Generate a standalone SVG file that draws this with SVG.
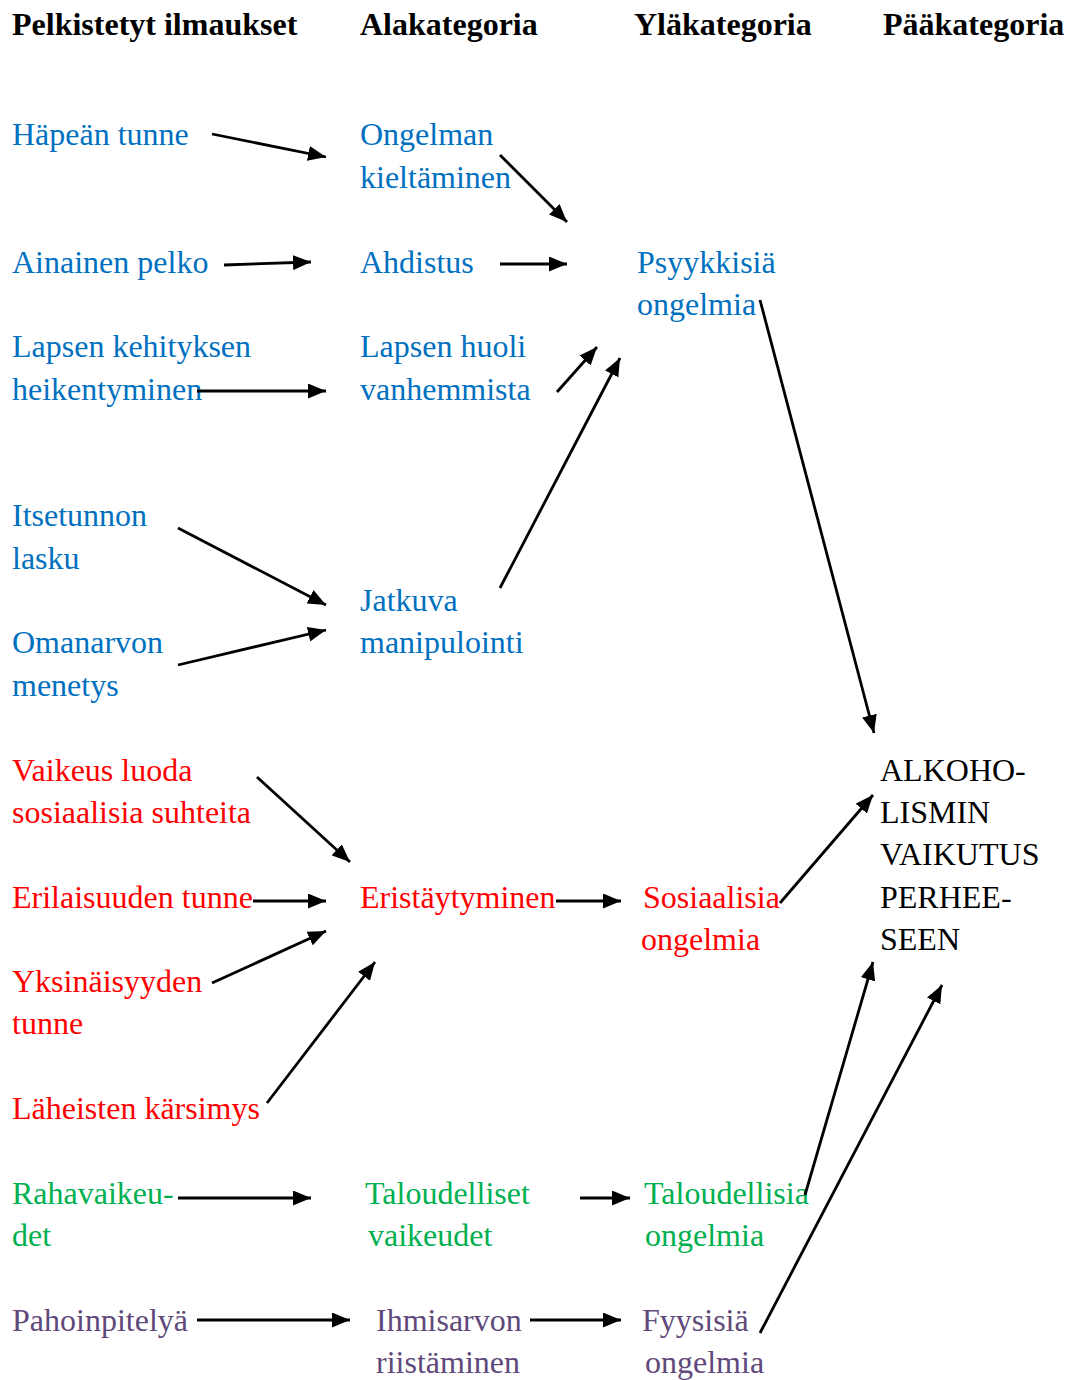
<svg xmlns="http://www.w3.org/2000/svg" width="1073" height="1380" viewBox="0 0 1073 1380">
  <defs>
    <marker id="arrow" markerUnits="userSpaceOnUse" markerWidth="19" markerHeight="15" refX="18" refY="7.5" orient="auto">
      <path d="M0,0 L18,7.5 L0,15 z" fill="#000"/>
    </marker>
    <style>
      text { font-family: "Liberation Serif", "Times New Roman", serif; font-size: 32px; }
      .head { font-weight: bold; fill: #000; }
      .blue { fill: #0070C0; }
      .red { fill: #FF0000; }
      .green { fill: #00B050; }
      .purple { fill: #5F497A; }
      .main { fill: #000; }
      #connectors line { stroke: #000; stroke-width: 2.8; marker-end: url(#arrow); }
    </style>
  </defs>
  <rect width="1073" height="1380" fill="#fff"/>

  <!-- column headings -->
  <g id="headings">
    <text class="head" x="12" y="35">Pelkistetyt ilmaukset</text>
    <text class="head" x="360" y="35">Alakategoria</text>
    <text class="head" x="634" y="35">Yläkategoria</text>
    <text class="head" x="883" y="35">Pääkategoria</text>
  </g>

  <!-- psychological problems branch -->
  <g id="hapean-tunne"><text class="blue" x="12" y="145">Häpeän tunne</text></g>
  <g id="ongelman-kieltaminen"><text class="blue" x="360" y="145">Ongelman</text><text class="blue" x="360" y="188">kieltäminen</text></g>
  <g id="ainainen-pelko"><text class="blue" x="12" y="273">Ainainen pelko</text></g>
  <g id="ahdistus"><text class="blue" x="360" y="273">Ahdistus</text></g>
  <g id="psyykkisia-ongelmia"><text class="blue" x="637" y="273">Psyykkisiä</text><text class="blue" x="637" y="315">ongelmia</text></g>
  <g id="lapsen-kehitys"><text class="blue" x="12" y="357">Lapsen kehityksen</text><text class="blue" x="12" y="400">heikentyminen</text></g>
  <g id="lapsen-huoli"><text class="blue" x="360" y="357">Lapsen huoli</text><text class="blue" x="360" y="400">vanhemmista</text></g>
  <g id="itsetunnon-lasku"><text class="blue" x="12" y="526">Itsetunnon</text><text class="blue" x="12" y="569">lasku</text></g>
  <g id="jatkuva-manipulointi"><text class="blue" x="360" y="611">Jatkuva</text><text class="blue" x="360" y="653">manipulointi</text></g>
  <g id="omanarvon-menetys"><text class="blue" x="12" y="653">Omanarvon</text><text class="blue" x="12" y="696">menetys</text></g>

  <!-- social problems branch -->
  <g id="vaikeus-luoda"><text class="red" x="12" y="781">Vaikeus luoda</text><text class="red" x="12" y="823">sosiaalisia suhteita</text></g>
  <g id="erilaisuuden-tunne"><text class="red" x="12" y="908">Erilaisuuden tunne</text></g>
  <g id="eristaytyminen"><text class="red" x="360" y="908">Eristäytyminen</text></g>
  <g id="sosiaalisia-ongelmia"><text class="red" x="643" y="908">Sosiaalisia</text><text class="red" x="641" y="950">ongelmia</text></g>
  <g id="yksinaisyyden-tunne"><text class="red" x="12" y="992">Yksinäisyyden</text><text class="red" x="12" y="1034">tunne</text></g>
  <g id="laheisten-karsimys"><text class="red" x="12" y="1119">Läheisten kärsimys</text></g>

  <!-- main category -->
  <g id="alkoholismin-vaikutus">
    <text class="main" x="880" y="781">ALKOHO-</text>
    <text class="main" x="880" y="823">LISMIN</text>
    <text class="main" x="880" y="865">VAIKUTUS</text>
    <text class="main" x="880" y="908">PERHEE-</text>
    <text class="main" x="880" y="950">SEEN</text>
  </g>

  <!-- economic problems branch -->
  <g id="rahavaikeudet"><text class="green" x="12" y="1204">Rahavaikeu-</text><text class="green" x="12" y="1246">det</text></g>
  <g id="taloudelliset-vaikeudet"><text class="green" x="365" y="1204">Taloudelliset</text><text class="green" x="368" y="1246">vaikeudet</text></g>
  <g id="taloudellisia-ongelmia"><text class="green" x="644" y="1204">Taloudellisia</text><text class="green" x="645" y="1246">ongelmia</text></g>

  <!-- physical problems branch -->
  <g id="pahoinpitelya"><text class="purple" x="12" y="1331">Pahoinpitelyä</text></g>
  <g id="ihmisarvon-riistaminen"><text class="purple" x="376" y="1331">Ihmisarvon</text><text class="purple" x="376" y="1373">riistäminen</text></g>
  <g id="fyysisia-ongelmia"><text class="purple" x="642" y="1331">Fyysisiä</text><text class="purple" x="645" y="1373">ongelmia</text></g>

  <!-- arrows between categories -->
  <g id="connectors">
    <line x1="212" y1="134" x2="326" y2="157"/>
    <line x1="500" y1="155" x2="567" y2="222"/>
    <line x1="224" y1="265" x2="311" y2="262"/>
    <line x1="500" y1="264" x2="567" y2="264"/>
    <line x1="197" y1="391" x2="326" y2="391"/>
    <line x1="557" y1="392" x2="597" y2="347"/>
    <line x1="500" y1="588" x2="620" y2="358"/>
    <line x1="760" y1="300" x2="874" y2="733"/>
    <line x1="178" y1="528" x2="326" y2="605"/>
    <line x1="178" y1="665" x2="326" y2="630"/>
    <line x1="257" y1="777" x2="350" y2="862"/>
    <line x1="253" y1="901" x2="326" y2="901"/>
    <line x1="556" y1="901" x2="621" y2="901"/>
    <line x1="212" y1="983" x2="326" y2="931"/>
    <line x1="267" y1="1103" x2="375" y2="962"/>
    <line x1="780" y1="903" x2="873" y2="795"/>
    <line x1="178" y1="1198" x2="311" y2="1198"/>
    <line x1="580" y1="1198" x2="630" y2="1198"/>
    <line x1="805" y1="1195" x2="873" y2="962"/>
    <line x1="197" y1="1320" x2="350" y2="1320"/>
    <line x1="530" y1="1320" x2="621" y2="1320"/>
    <line x1="760" y1="1333" x2="942" y2="985"/>
  </g>
</svg>
